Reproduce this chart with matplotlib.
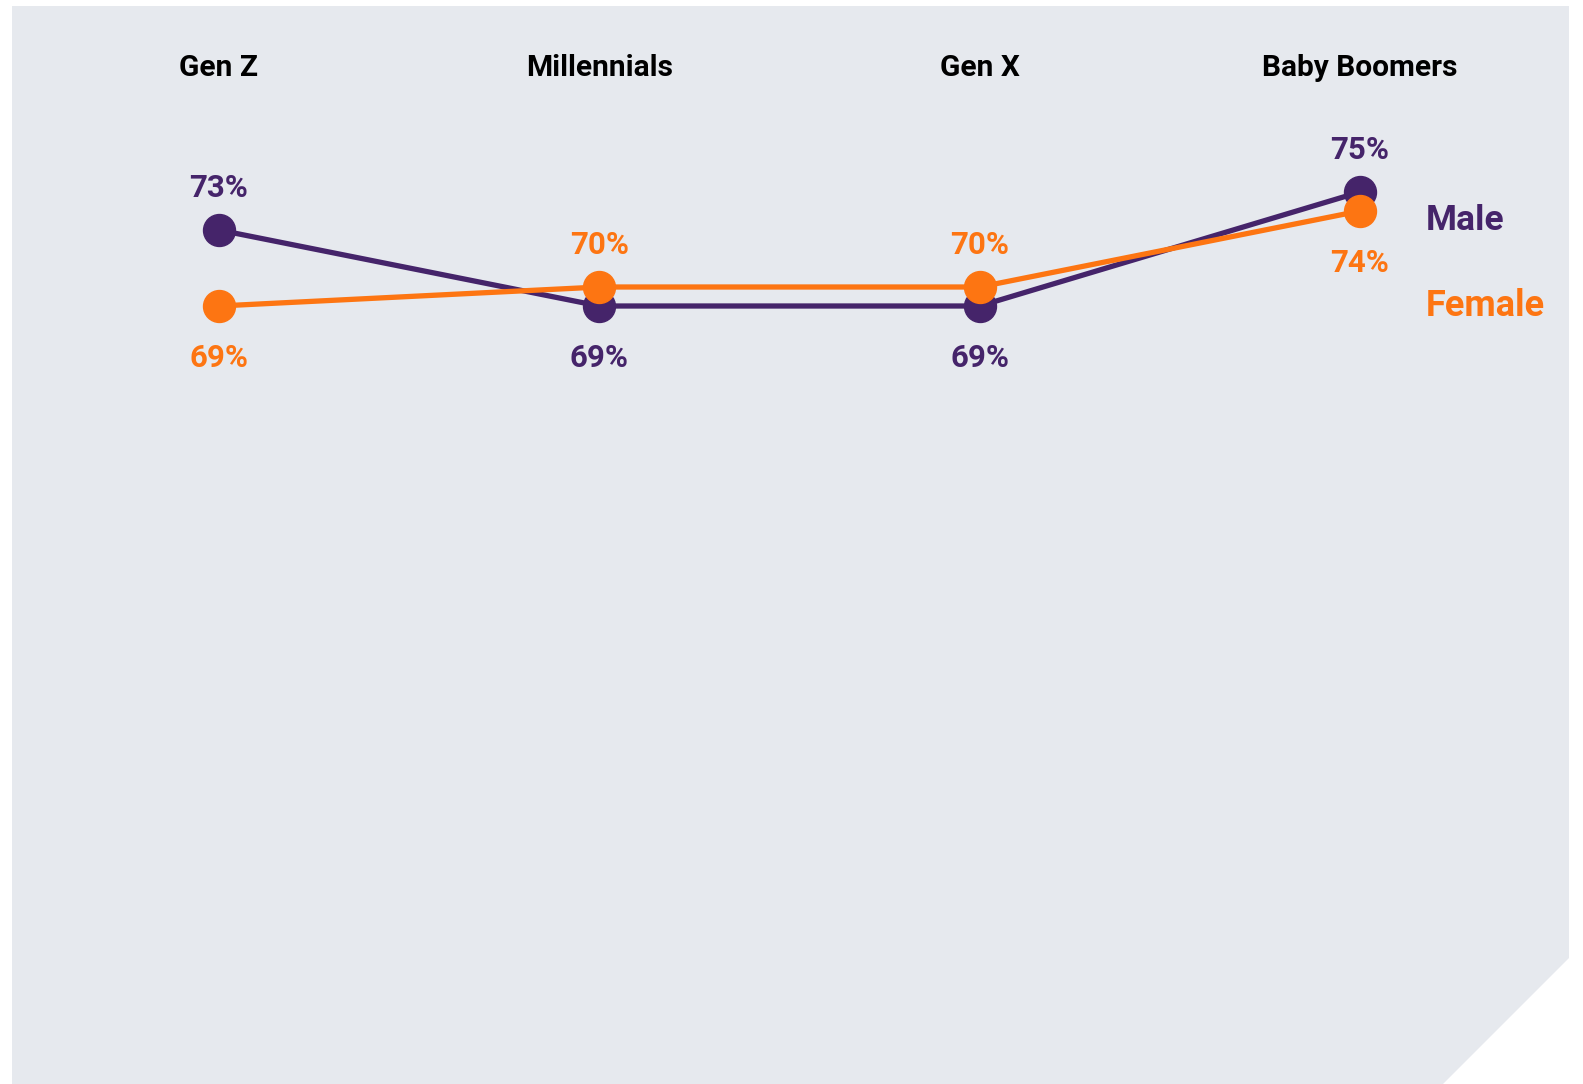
import matplotlib
matplotlib.use("Agg")
import matplotlib.pyplot as plt
from matplotlib.patches import Polygon

plt.rcParams['font.family'] = ['Roboto', 'DejaVu Sans']

generaciones = ["Gen Z", "Millennials", "Gen X", "Baby Boomers"]
hombres = [73, 69, 69, 75]
mujeres = [69, 70, 70, 74]

morado = "#45246a"
naranja = "#fd7512"
fondo = "#e6e9ee"

ancho, alto = 1583, 1084
fig = plt.figure(figsize=(ancho / 100, alto / 100), dpi=100)

# panel de fondo con la esquina cortada (en pixeles)
esquinas = [(12, 6), (1569, 6), (1569, 958), (1443, 1084), (12, 1084)]
panel = Polygon([(x / ancho, 1 - y / alto) for x, y in esquinas],
                closed=True, transform=fig.transFigure, facecolor=fondo,
                edgecolor="none", zorder=-1)
fig.patches.append(panel)

ax = fig.add_axes([12 / ancho, 0, (1569 - 12) / ancho, (1084 - 6) / alto])
ax.set_facecolor("none")
paso_x = (1360 - 219) / 3
paso_y = 19.0
ax.set_xlim(-(219 - 12) / paso_x, 3 + (1569 - 1360) / paso_x)
ax.set_ylim(69 - (1084 - 306) / paso_y, 75 + (192 - 6) / paso_y)
ax.axis("off")

xs = range(len(generaciones))
ax.plot(xs, hombres, color=morado, lw=3.8, marker="o", ms=23, zorder=3)
ax.plot(xs, mujeres, color=naranja, lw=3.8, marker="o", ms=23, zorder=4)

for i, (h, m) in enumerate(zip(hombres, mujeres)):
    # etiqueta arriba para el mayor, abajo para el menor
    if h > m:
        arriba, c_arr, abajo, c_ab = h, morado, m, naranja
    else:
        arriba, c_arr, abajo, c_ab = m, naranja, h, morado
    ax.annotate(f"{arriba}%", (i, arriba), xytext=(0, 24), textcoords="offset points",
                ha="center", va="baseline", fontsize=22.5, fontweight="bold", color=c_arr)
    ax.annotate(f"{abajo}%", (i, abajo), xytext=(0, -44), textcoords="offset points",
                ha="center", va="baseline", fontsize=22.5, fontweight="bold", color=c_ab)

for i, g in enumerate(generaciones):
    ax.text(i, 75 + (192 - 68) / paso_y, g, ha="center", va="center",
            fontsize=21.5, fontweight="bold", color="black")

x_leyenda = 3 + (1426 - 1360) / paso_x
ax.text(x_leyenda, 75 - (221 - 192) / paso_y, "Male", ha="left", va="center",
        fontsize=25.5, fontweight="bold", color=morado)
ax.text(x_leyenda, 75 - (306 - 192) / paso_y, "Female", ha="left", va="center",
        fontsize=26, fontweight="bold", color=naranja)

fig.savefig("out.png", dpi=100, facecolor="white")
